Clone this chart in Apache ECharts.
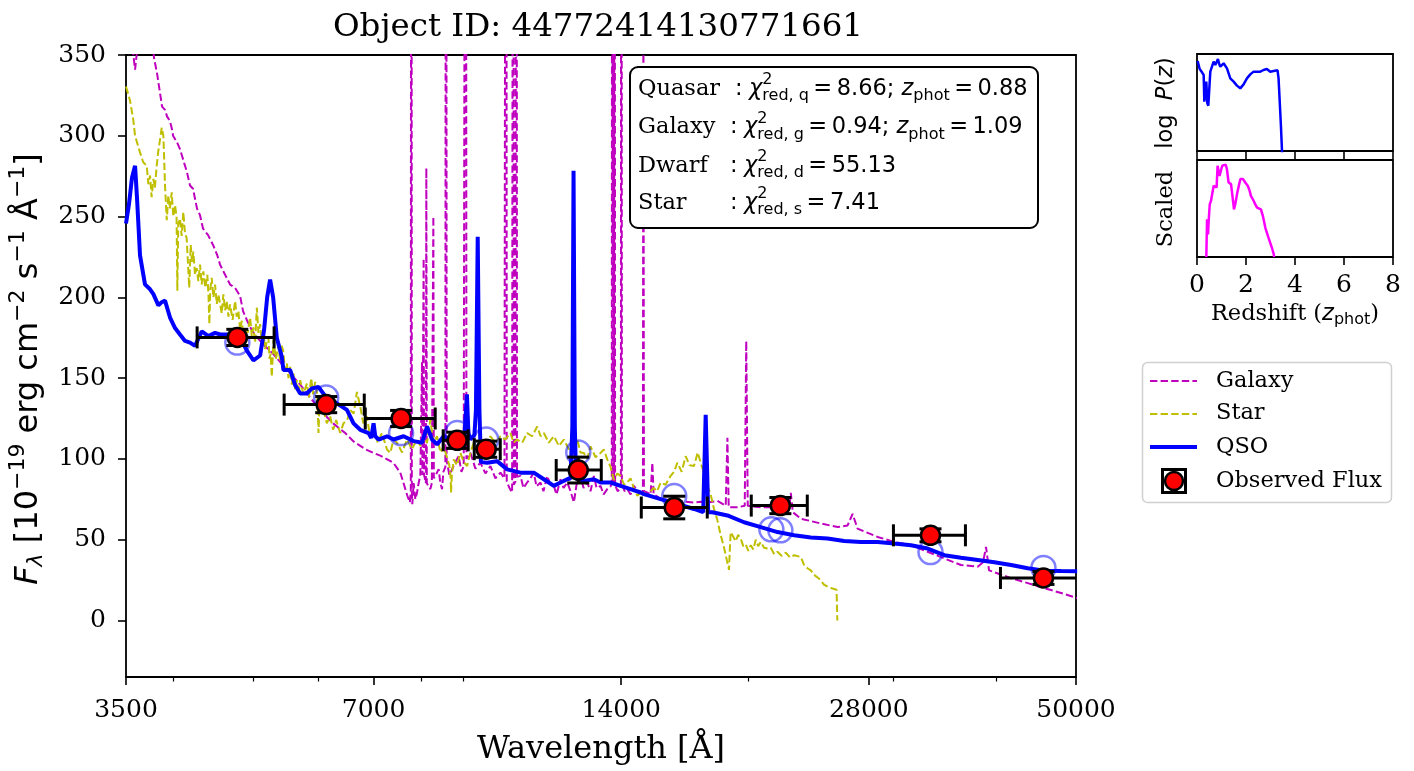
<!DOCTYPE html>
<html>
<head>
<meta charset="utf-8">
<title>SED fit</title>
<script src="https://cdn.jsdelivr.net/npm/echarts@6.0.0/dist/echarts.min.js"></script>
<style>
html, body { margin: 0; padding: 0; background: #fff; }
#chart { width: 1414px; height: 771px; }
</style>
</head>
<body>
<div id="chart"></div>
<script>
var SERIF = '"DejaVu Serif", serif';
var SANS = '"DejaVu Sans", sans-serif';

// axis ticks
var xTicks = [3500, 7000, 14000, 28000, 50000];
var xMinorTicks = [4000, 5000, 6000, 8000, 9000, 20000, 30000, 40000];
var yTicks = [0, 50, 100, 150, 200, 250, 300, 350];

// template spectra, [wavelength (A), flux]
var galaxySed = [[3500,420],[3539,385],[3569,352],[3590,341],[3609,352],[3640,395],[3702,380],[3765,360],[3786,348],[3818,338.6],[3828,334.6],[3850,326.4],[3872,318],[3904,316],[3926,312],[3959,309],[3981,304],[3993,300],[4037,296],[4071,291.7],[4094,287.6],[4129,281.4],[4152,277.3],[4187,269.2],[4222,267.2],[4270,254.9],[4306,250.8],[4342,242.6],[4404,238.5],[4466,232.4],[4517,226.3],[4555,220.2],[4619,214],[4684,207.9],[4750,205.9],[4817,200.8],[4857,191.5],[4913,185.5],[4982,179.3],[5052,175.2],[5138,171],[5210,168],[5284,165],[5388,160],[5542,153],[5700,146],[5861,138],[6028,130],[6251,122],[6465,116],[6611,111],[6838,106],[6993,103.7],[7131,102],[7273,99.7],[7397,97.6],[7543,91.5],[7607,85.4],[7693,77.2],[7747,73],[7768,80],[7779,900],[7790,80],[7801,72],[7830,85],[7867,75],[7904,79],[7933,84],[7978,90],[8007,90],[8016,160],[8025,90],[8043,91],[8052,224],[8061,90],[8079,88],[8102,85],[8113,280],[8124,85],[8159,83],[8204,81.3],[8239,85],[8262,86],[8274,250],[8285,88],[8320,89.5],[8398,93.6],[8438,85],[8478,81.3],[8509,92],[8557,95],[8574,900],[8588,99],[8598,99.7],[8653,90],[8719,93.6],[8800,98],[8882,101.7],[8950,92],[9008,95.6],[9050,96],[9063,900],[9076,100],[9178,103.7],[9308,94],[9439,97.6],[9572,91],[9707,95.6],[9844,88],[9983,91.5],[10096,88],[10124,89],[10144,900],[10161,86],[10172,85.4],[10238,82],[10315,79.2],[10339,80],[10350,900],[10362,84],[10411,86],[10441,900],[10456,89],[10559,89.5],[10648,82],[10759,85.4],[10859,88],[10960,91.5],[11043,83],[11167,85.4],[11262,80],[11379,89.5],[11485,84],[11592,83.3],[11680,78],[11812,87.4],[11911,82],[12036,85.4],[12147,80],[12261,73.1],[12353,84],[12492,89.5],[12598,82],[12729,85.4],[12847,80],[12967,89.5],[13065,82],[13212,83.3],[13324,78],[13463,81.3],[13588,83],[13634,85],[13653,900],[13673,85],[13688,86],[13703,900],[13722,85],[13742,900],[13761,84],[13857,80],[13986,82],[14005,900],[14025,85],[14131,80],[14239,81.3],[14371,78],[14505,83.3],[14656,80],[14780,79.2],[14876,80],[14896,400],[14917,80],[15060,79.2],[15200,78],[15273,97.6],[15329,78],[15458,77],[15632,75.2],[15986,74.5],[16381,74.1],[16767,73.5],[17162,73],[17487,73.5],[17818,73],[18325,74],[18756,71],[18845,113],[18914,70],[19381,70],[19782,71],[19865,173],[19949,71],[20689,70],[21680,70],[22378,68],[22504,79],[22630,67],[23143,63],[23801,61.5],[24478,60],[25650,57.8],[26380,58.8],[26752,66],[27129,56.8],[28693,51.7],[30060,48.6],[31500,46.6],[33011,42.5],[34583,38.4],[36239,34.3],[37975,33.3],[38544,36],[38869,45.5],[39197,31],[39417,30.2],[41691,26.2],[43688,23.1],[45770,20],[47962,17],[50200,13.8]];

var starSed = [[3500,330.5],[3539,322],[3572,310],[3590,300],[3640,289.7],[3673,283.6],[3709,281.4],[3726,270],[3744,275.4],[3760,262],[3779,273.3],[3795,268],[3814,281.4],[3830,290],[3850,297.8],[3868,305],[3886,300],[3895,285],[3904,269.2],[3923,247.7],[3940,263],[3958,255],[3978,265],[3995,250],[4015,257],[4032,250],[4041,204],[4051,245],[4071,248.8],[4090,238],[4109,252.9],[4128,240],[4148,236.5],[4169,215],[4178,205.9],[4195,232.4],[4210,222],[4226,228.3],[4246,214],[4266,218.1],[4286,210],[4306,220.2],[4326,208],[4346,216.1],[4370,206],[4395,214],[4410,200],[4420,183.4],[4431,205],[4449,212],[4470,200],[4491,207.9],[4512,196],[4533,201.8],[4555,195.7],[4576,190],[4597,201.8],[4619,192],[4641,197.7],[4662,188],[4684,195.7],[4717,186],[4750,197.7],[4772,188],[4794,191.5],[4817,180],[4840,185.5],[4862,176],[4885,181.4],[4920,178],[4954,187.5],[4977,176],[5000,181.4],[5024,172],[5048,193.6],[5071,178],[5095,183.4],[5118,172],[5142,179.3],[5165,168],[5188,172],[5214,175.2],[5230,162],[5247,165],[5264,150.7],[5288,173.2],[5325,162],[5362,170.2],[5388,161],[5410,170],[5434,167],[5462,155],[5491,159],[5516,150],[5542,157],[5567,146],[5593,152.8],[5620,143],[5647,148.7],[5673,140],[5700,148.7],[5750,140],[5807,146.6],[5840,138],[5878,150],[5910,140],[5944,147.7],[5978,140],[5999,116],[6020,138],[6084,130.3],[6140,122],[6199,126.2],[6250,118],[6304,124],[6375,116],[6434,122],[6500,124],[6556,130.3],[6620,128],[6681,141.5],[6743,132.4],[6800,122],[6870,126.2],[6930,114],[6999,120],[7080,110],[7165,116],[7267,105.8],[7335,103.7],[7400,112],[7474,110],[7580,104],[7686,112],[7790,106],[7904,112],[7980,108],[8052,114],[8130,110],[8204,124.2],[8280,110],[8360,114],[8440,104],[8517,107.8],[8653,96],[8685,88],[8694,79.2],[8714,90],[8759,99.7],[8840,96],[8924,103.7],[9010,98],[9094,95.6],[9180,104],[9264,110],[9350,106],[9439,112],[9570,108],[9707,114],[9840,110],[9983,114],[10120,112],[10266,116],[10360,110],[10461,112],[10610,110],[10759,116],[10910,114],[11065,120],[11170,114],[11272,116],[11430,110],[11592,114],[11760,108],[11922,112],[12090,106],[12261,107.8],[12377,112],[12490,104],[12609,103.7],[12730,100],[12847,107.8],[13030,101],[13212,103.7],[13335,105.8],[13463,99.7],[13588,95],[13715,87],[13850,91],[13974,89.5],[14110,84],[14239,85.4],[14371,88],[14500,82],[14644,77.2],[14850,80],[15060,77.2],[15200,80],[15329,82],[15480,80],[15632,85.4],[15850,84],[16076,89.5],[16230,92],[16381,97.6],[16580,92],[16767,101.7],[16956,96],[17162,95.6],[17341,104],[17487,97.6],[17635,92],[17818,83.3],[17983,78],[18151,69],[18325,62],[18495,52.7],[18630,47],[18756,40.4],[18929,31.3],[18977,45],[19020,54.7],[19150,52],[19288,49],[19420,53],[19561,50.7],[19700,46],[19837,47],[19980,43],[20117,46.6],[20260,44],[20401,50],[20540,46],[20689,48.6],[20880,45],[21081,44.5],[21277,45],[21480,41],[21680,42.5],[21930,40],[22191,42],[22450,39],[22713,40.4],[23143,39.3],[23358,34.3],[23582,32.3],[23801,31],[24023,28.2],[24341,26],[24706,22.1],[25033,20.5],[25579,19],[25636,0]];

var qsoSed = [[3500,245.7],[3530,258],[3559,274],[3590,281.4],[3609,262],[3622,247],[3640,226],[3691,208],[3744,205],[3779,202],[3832,195],[3868,197],[3904,198],[3959,187.5],[4015,181],[4071,177],[4129,173],[4187,172],[4246,170],[4327,179],[4407,176],[4491,178],[4555,177],[4684,177],[4817,175],[4909,167],[5000,161],[5095,164],[5152,180],[5196,200],[5239,211],[5284,200],[5338,175],[5414,163],[5438,155],[5542,155],[5620,145.6],[5700,140.5],[5807,140.5],[5889,143.6],[5999,144.6],[6142,137.4],[6316,134.4],[6496,130.3],[6617,122],[6743,118],[6901,116],[6954,113],[6999,122],[7032,114],[7098,112],[7267,114],[7403,112],[7613,114],[7830,111],[8016,110],[8129,120],[8244,112],[8360,109],[8517,114],[8678,112],[8842,109],[9008,110],[9035,118],[9089,140],[9127,116],[9178,112],[9282,115],[9321,130],[9368,237.5],[9413,130],[9452,98],[9618,97.6],[9891,98.6],[10172,93.5],[10559,91.5],[10960,91.5],[11272,87.4],[11592,83.3],[11812,85.4],[12036,87.4],[12147,88],[12209,120],[12250,278.4],[12294,120],[12336,88],[12609,86.4],[12967,87.4],[13212,85.4],[13588,85.4],[13974,83.3],[14371,81.3],[14780,79.2],[14917,78.2],[15632,75.1],[16381,72.1],[17162,69],[17610,67],[17733,127.3],[17858,67],[18069,67],[18845,65],[19743,60.8],[20689,57.8],[21680,54.7],[22713,52.7],[23801,51.3],[24942,50.7],[26130,49.2],[27381,48.6],[28693,48.6],[30060,47.6],[31500,46.6],[33011,44.5],[34583,40.4],[36239,38.8],[37975,37.4],[39785,36],[41691,34.3],[43688,32.3],[45770,30.8],[47962,30.6],[50161,30.5]];

// observed photometry
var obsWave = [4780, 6130, 7560, 8845, 9594, 12413, 16240, 21856, 33272, 45647];
var obsFlux = [175.2, 133.6, 125.0, 111.5, 106.0, 93.1, 69.9, 71.1, 52.7, 26.3];
var obsWaveLo = [4271, 5449, 6838, 8505, 9277, 11670, 14808, 20146, 29994, 40470];
var obsWaveHi = [5298, 6819, 8317, 9122, 9978, 13239, 17811, 23567, 36691, 52000];
var obsFluxErr = [5, 5, 5, 5, 5, 8, 7, 5, 4, 4];

// model fluxes in the bands
var modelWave = [4780, 6130, 7560, 8845, 9594, 12413, 16240, 21311, 21856, 33272, 45647];
var modelFlux = [172, 138, 116, 116, 112, 104, 77, 56.4, 55.8, 42.3, 32.5];

// redshift panels, [z, value]
var pzCurve = [[0.027,0.928],[0.109,0.845],[0.204,0.811],[0.272,0.784],[0.299,0.509],[0.340,0.491],[0.380,0.715],[0.421,0.491],[0.462,0.467],[0.503,0.646],[0.543,0.818],[0.611,0.869],[0.679,0.921],[0.747,0.887],[0.815,0.904],[0.856,0.948],[0.897,0.904],[0.951,0.869],[1.019,0.887],[1.087,0.904],[1.155,0.893],[1.223,0.852],[1.291,0.801],[1.359,0.749],[1.495,0.715],[1.630,0.674],[1.766,0.646],[1.834,0.653],[1.902,0.687],[2.038,0.749],[2.174,0.790],[2.310,0.818],[2.446,0.818],[2.514,0.835],[2.582,0.818],[2.717,0.835],[2.853,0.845],[2.921,0.835],[2.989,0.818],[3.125,0.825],[3.288,0.832],[3.329,0.749],[3.370,0.543],[3.424,0.268],[3.478,-0.05]];
var scaledCurve = [[0.38,0],[0.41,0.388],[0.45,0.232],[0.48,0.388],[0.52,0.543],[0.57,0.578],[0.63,0.578],[0.68,0.734],[0.72,0.716],[0.76,0.751],[0.80,0.716],[0.84,0.941],[0.90,0.941],[0.92,0.837],[0.98,0.855],[1.03,0.941],[1.09,0.958],[1.17,0.952],[1.22,0.907],[1.29,0.768],[1.39,0.751],[1.45,0.734],[1.51,0.491],[1.56,0.543],[1.66,0.682],[1.77,0.803],[1.88,0.803],[1.97,0.768],[2.07,0.734],[2.15,0.682],[2.20,0.630],[2.28,0.595],[2.38,0.543],[2.45,0.509],[2.51,0.491],[2.61,0.491],[2.69,0.422],[2.79,0.301],[2.92,0.197],[3.06,0.093],[3.13,0.031],[3.15,0]];

var ctx = document.createElement('canvas').getContext('2d');

// lay out a run of text pieces (math-like sub/superscripts) left to right
function textRun(parts, size) {
	var x = 0, els = [];
	parts.forEach(function (p) {
		var s = p.s || size;
		var font = (p.it ? 'italic ' : '') + s + 'px ' + (p.f || SANS);
		ctx.font = font;
		els.push({
			type: 'text', x: x, y: p.dy || 0, z: 101,
			style: {text: p.t, font: font, fill: '#000', textAlign: 'left', textVerticalAlign: 'middle', align: 'left', verticalAlign: 'middle'}
		});
		if (!p.stack) x += ctx.measureText(p.t).width;
	});
	return {els: els, width: x};
}

function centered(run) {
	run.els.forEach(function (e) { e.x -= run.width / 2; });
	return run.els;
}

function plainText(t, x, y, size, family, align) {
	return {
		type: 'text', x: x, y: y, z: 101,
		style: {text: t, font: size + 'px ' + family, fill: '#000', textAlign: align || 'left', textVerticalAlign: 'middle', align: align || 'left', verticalAlign: 'middle'}
	};
}

var graphics = [];

// title
graphics.push(plainText('Object ID: 44772414130771661', 598, 28, 32.5, SERIF, 'center'));

// y axis label
var yLab = textRun([
	{t: 'F', it: 1}, {t: 'λ', it: 1, s: 22, dy: 7}, {t: ' [10'}, {t: '−19', s: 22, dy: -11},
	{t: ' erg cm'}, {t: '−2', s: 22, dy: -11}, {t: ' s'}, {t: '−1', s: 22, dy: -11},
	{t: ' Å'}, {t: '−1', s: 22, dy: -11}, {t: ']'}
], 32);
graphics.push({type: 'group', x: 29, y: 369, rotation: Math.PI / 2, children: centered(yLab)});

// info box
graphics.push({type: 'rect', z: 100, shape: {x: 630, y: 67, width: 408, height: 161, r: 8},
	style: {fill: '#fff', stroke: '#000', lineWidth: 2}});
var TS = '\u2009';
var infoRows = [
	{name: 'Quasar', y: 89, colon: 735, mx: 749, sub: 'q', chi: '8.66', z: '0.88'},
	{name: 'Galaxy', y: 127.5, colon: 730, mx: 744, sub: 'g', chi: '0.94', z: '1.09'},
	{name: 'Dwarf', y: 166, colon: 730, mx: 744, sub: 'd', chi: '55.13', z: null},
	{name: 'Star', y: 203, colon: 730, mx: 744, sub: 's', chi: '7.41', z: null}
];
infoRows.forEach(function (r) {
	graphics.push(plainText(r.name, 638, r.y, 22.5, SERIF));
	graphics.push(plainText(':', r.colon, r.y, 22.5, SANS));
	var parts = [{t: 'χ', it: 1}, {t: '2', s: 16, dy: -9, stack: 1}, {t: 'red, ' + r.sub, s: 16, dy: 7},
		{t: TS + '=' + TS + r.chi + (r.z ? '; ' : '')}];
	if (r.z) parts = parts.concat([{t: 'z', it: 1}, {t: 'phot', s: 16, dy: 7}, {t: TS + '=' + TS + r.z}]);
	var run = textRun(parts, 22.5);
	graphics.push({type: 'group', x: r.mx, y: r.y, children: run.els});
});

// inset labels
graphics.push({type: 'group', x: 1166, y: 103, rotation: Math.PI / 2,
	children: centered(textRun([{t: 'log'}, {t: '  '}, {t: 'P', it: 1}, {t: '('}, {t: 'z', it: 1}, {t: ')'}], 22.5))});
graphics.push({type: 'group', x: 1166, y: 209, rotation: Math.PI / 2,
	children: centered(textRun([{t: 'Scaled', f: SERIF}], 22.5))});
graphics.push({type: 'group', x: 1295, y: 314,
	children: centered(textRun([{t: 'Redshift (', f: SERIF}, {t: 'z', it: 1}, {t: 'phot', s: 16, dy: 6}, {t: ')', f: SERIF}], 22.5))});

// legend
graphics.push({type: 'rect', z: 100, shape: {x: 1142.5, y: 362.5, width: 249, height: 140, r: 5},
	style: {fill: '#fff', stroke: '#d0d0d0', lineWidth: 1.5}});
graphics.push({type: 'line', z: 101, shape: {x1: 1150, y1: 381, x2: 1197, y2: 381}, style: {stroke: '#bf00bf', lineWidth: 2, lineDash: [7.4, 3.2]}});
graphics.push({type: 'line', z: 101, shape: {x1: 1150, y1: 414, x2: 1197, y2: 414}, style: {stroke: '#bfbf00', lineWidth: 2, lineDash: [7.4, 3.2]}});
graphics.push({type: 'line', z: 101, shape: {x1: 1150, y1: 447, x2: 1197, y2: 447}, style: {stroke: '#0000ff', lineWidth: 4}});
graphics.push({type: 'rect', z: 101, shape: {x: 1162.5, y: 469.5, width: 23, height: 23}, style: {fill: 'none', stroke: '#000', lineWidth: 3}});
graphics.push({type: 'circle', z: 102, shape: {cx: 1174, cy: 481, r: 9}, style: {fill: '#ff0000', stroke: '#000', lineWidth: 2.5}});
graphics.push(plainText('Galaxy', 1216, 381, 22.5, SERIF));
graphics.push(plainText('Star', 1216, 413.5, 22.5, SERIF));
graphics.push(plainText('QSO', 1216, 447, 22.5, SERIF));
graphics.push(plainText('Observed Flux', 1216, 481, 22.5, SERIF));

var errData = obsWave.map(function (w, i) {
	return [w, obsFlux[i], obsWaveLo[i], obsWaveHi[i], obsFluxErr[i]];
});

function renderErr(params, api) {
	var cs = params.coordSys;
	var right = cs.x + cs.width;
	var y = api.value(1), e = api.value(4);
	var c = api.coord([api.value(0), y]);
	var l = api.coord([api.value(2), y]);
	var r = api.coord([api.value(3), y]);
	var t = api.coord([api.value(0), y + e]);
	var b = api.coord([api.value(0), y - e]);
	var st = {stroke: '#000', lineWidth: 3};
	var cap = 11;
	var kids = [
		{type: 'line', shape: {x1: l[0], y1: c[1], x2: Math.min(r[0], right), y2: c[1]}, style: st},
		{type: 'line', shape: {x1: l[0], y1: c[1] - cap, x2: l[0], y2: c[1] + cap}, style: st},
		{type: 'line', shape: {x1: c[0], y1: t[1], x2: c[0], y2: b[1]}, style: st},
		{type: 'line', shape: {x1: c[0] - cap, y1: t[1], x2: c[0] + cap, y2: t[1]}, style: st},
		{type: 'line', shape: {x1: c[0] - cap, y1: b[1], x2: c[0] + cap, y2: b[1]}, style: st}
	];
	if (r[0] <= right) {
		kids.push({type: 'line', shape: {x1: r[0], y1: c[1] - cap, x2: r[0], y2: c[1] + cap}, style: st});
	}
	return {type: 'group', children: kids};
}

var tickStyle = {color: '#000', width: 1.6};
var gridBox = {show: true, borderColor: '#000', borderWidth: 1.8, backgroundColor: '#fff'};

var myChart = echarts.init(document.getElementById('chart'));
var option = {
	animation: false,
	backgroundColor: '#fff',
	grid: [
		Object.assign({left: 126, top: 55, width: 950, height: 628}, gridBox),
		Object.assign({left: 1197, top: 54, width: 196, height: 97}, gridBox),
		Object.assign({left: 1197, top: 160, width: 196, height: 97}, gridBox)
	],
	xAxis: [{
		type: 'log', gridIndex: 0, min: 3500, max: 50000, position: 'bottom',
		axisLine: {show: false, onZero: false}, splitLine: {show: false},
		axisTick: {show: true, customValues: xTicks, length: 8, lineStyle: tickStyle},
		axisLabel: {
			customValues: xTicks, fontFamily: SERIF, fontSize: 25, color: '#000', margin: 21,
			formatter: function (v) { return String(Math.round(v)); }
		},
		name: 'Wavelength [Å]', nameLocation: 'middle', nameGap: 57,
		nameTextStyle: {fontFamily: SERIF, fontSize: 32, color: '#000'}
	}, {
		type: 'log', gridIndex: 0, min: 3500, max: 50000, position: 'bottom',
		axisLine: {show: false, onZero: false}, splitLine: {show: false},
		axisTick: {show: true, customValues: xMinorTicks, length: 4.5, lineStyle: {color: '#000', width: 1.2}},
		axisLabel: {show: false}
	}, {
		type: 'value', gridIndex: 1, min: 0, max: 8, interval: 2,
		axisLine: {show: false, onZero: false}, splitLine: {show: false},
		axisTick: {show: true, length: 8, lineStyle: tickStyle},
		axisLabel: {show: false}
	}, {
		type: 'value', gridIndex: 2, min: 0, max: 8, interval: 2,
		axisLine: {show: false, onZero: false}, splitLine: {show: false},
		axisTick: {show: true, length: 8, lineStyle: tickStyle},
		axisLabel: {fontFamily: SERIF, fontSize: 25, color: '#000', margin: 16}
	}],
	yAxis: [{
		type: 'value', gridIndex: 0, min: -35, max: 350,
		axisLine: {show: false, onZero: false}, splitLine: {show: false},
		axisTick: {show: true, customValues: yTicks, length: 8, lineStyle: tickStyle},
		axisLabel: {customValues: yTicks, fontFamily: SERIF, fontSize: 25, color: '#000', margin: 20}
	}, {
		type: 'value', gridIndex: 1, min: 0, max: 1,
		axisLine: {show: false}, splitLine: {show: false}, axisTick: {show: false}, axisLabel: {show: false}
	}, {
		type: 'value', gridIndex: 2, min: 0, max: 1,
		axisLine: {show: false}, splitLine: {show: false}, axisTick: {show: false}, axisLabel: {show: false}
	}],
	series: [{
		name: 'Galaxy', type: 'line', xAxisIndex: 0, yAxisIndex: 0, data: galaxySed,
		symbol: 'none', clip: true, silent: true, z: 2,
		lineStyle: {color: '#bf00bf', width: 2, type: [7.4, 3.2]}
	}, {
		name: 'Star', type: 'line', xAxisIndex: 0, yAxisIndex: 0, data: starSed,
		symbol: 'none', clip: true, silent: true, z: 2,
		lineStyle: {color: '#bfbf00', width: 2, type: [7.4, 3.2]}
	}, {
		name: 'QSO', type: 'line', xAxisIndex: 0, yAxisIndex: 0, data: qsoSed,
		symbol: 'none', clip: true, silent: true, z: 3,
		lineStyle: {color: '#0000ff', width: 4}
	}, {
		name: 'Model', type: 'scatter', xAxisIndex: 0, yAxisIndex: 0, z: 4, silent: true,
		data: modelWave.map(function (w, i) { return [w, modelFlux[i]]; }),
		symbolSize: 24,
		itemStyle: {color: 'rgba(0,0,0,0)', borderColor: 'rgba(0,0,255,0.5)', borderWidth: 2.5, opacity: 1}
	}, {
		name: 'Errors', type: 'custom', xAxisIndex: 0, yAxisIndex: 0, z: 5, silent: true,
		data: errData, renderItem: renderErr
	}, {
		name: 'Observed Flux', type: 'scatter', xAxisIndex: 0, yAxisIndex: 0, z: 6, silent: true,
		data: obsWave.map(function (w, i) { return [w, obsFlux[i]]; }),
		symbolSize: 19,
		itemStyle: {color: '#ff0000', borderColor: '#000', borderWidth: 2.5, opacity: 1}
	}, {
		name: 'logPz', type: 'line', xAxisIndex: 2, yAxisIndex: 1, data: pzCurve,
		symbol: 'none', clip: true, silent: true, lineStyle: {color: '#0000ff', width: 2.5}
	}, {
		name: 'scaled', type: 'line', xAxisIndex: 3, yAxisIndex: 2, data: scaledCurve,
		symbol: 'none', clip: true, silent: true, lineStyle: {color: '#ff00ff', width: 2.5}
	}],
	graphic: graphics
};
myChart.setOption(option);
window.addEventListener('resize', function () {
	myChart.resize();
});
</script>
</body>
</html>
